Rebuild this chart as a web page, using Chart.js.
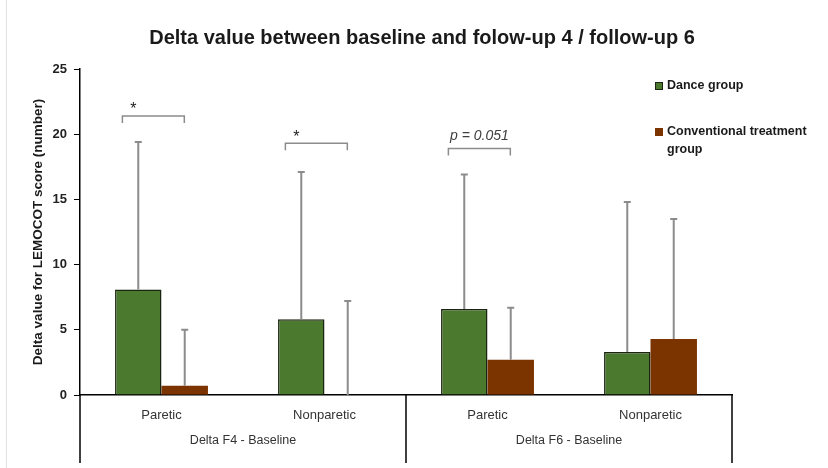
<!DOCTYPE html>
<html>
<head>
<meta charset="utf-8">
<title>Delta value chart</title>
<script src="https://cdn.jsdelivr.net/npm/chart.js@4.4.0/dist/chart.umd.min.js"></script>
<style>
  body { margin: 0; background: #fff; }
  #wrap { position: relative; width: 828px; height: 468px; }
  #frame { position: absolute; left: 6px; top: 0; width: 1px; height: 468px; background: #e2e2e2; }
</style>
</head>
<body>
<div id="wrap">
  <div id="frame"></div>
  <canvas id="chart" width="828" height="468"></canvas>
</div>
<script>
// Datos
const categories = ['Paretic', 'Nonparetic', 'Paretic', 'Nonparetic'];
const groups = ['Delta F4 - Baseline', 'Delta F6 - Baseline'];
const danceMean = [8.1, 5.8, 6.6, 3.3];
const danceSD = [11.3, 11.3, 10.3, 11.5];
const convMean = [0.7, 0, 2.7, 4.3];
const convSD = [4.3, 7.2, 4.0, 9.2];
const yTicks = [0, 5, 10, 15, 20, 25];

// Corchetes de significación
const sigIndex = [0, 1, 2];
const sigLevel = [21.4, 19.3, 18.9];
const sigText = ['*', '*', 'p = 0.051'];

const FONT = "'Liberation Sans', Arial, sans-serif";
Chart.defaults.font.family = FONT;

// Barras de error (solo hacia arriba)
const errorBars = {
    id: 'errorBars',
    afterDatasetsDraw(chart) {
        const { ctx, scales: { y } } = chart;
        const sds = [danceSD, convSD];
        ctx.save();
        ctx.strokeStyle = '#8c8c8c';
        ctx.lineWidth = 2;
        chart.data.datasets.forEach((ds, di) => {
            chart.getDatasetMeta(di).data.forEach((bar, i) => {
                const top = y.getPixelForValue(ds.data[i] + sds[di][i]);
                ctx.beginPath();
                ctx.moveTo(bar.x, bar.y);
                ctx.lineTo(bar.x, top);
                ctx.moveTo(bar.x - 3.5, top);
                ctx.lineTo(bar.x + 3.5, top);
                ctx.stroke();
            });
        });
        ctx.restore();
    }
};

// Corchetes, grupos del eje X y leyenda
const extras = {
    id: 'extras',
    afterDraw(chart) {
        const { ctx, chartArea, scales: { x, y } } = chart;
        const catW = x.getPixelForValue(1) - x.getPixelForValue(0);
        ctx.save();

        // corchetes
        sigIndex.forEach((idx, k) => {
            const cx = x.getPixelForValue(idx);
            const l = cx - 0.24 * catW;
            const r = cx + 0.14 * catW;
            const by = y.getPixelForValue(sigLevel[k]);
            ctx.strokeStyle = '#8c8c8c';
            ctx.lineWidth = 1.5;
            ctx.beginPath();
            ctx.moveTo(l, by + 7);
            ctx.lineTo(l, by);
            ctx.lineTo(r, by);
            ctx.lineTo(r, by + 7);
            ctx.stroke();
            ctx.textBaseline = 'middle';
            if (sigText[k] === '*') {
                ctx.fillStyle = '#222';
                ctx.font = '16px ' + FONT;
                ctx.textAlign = 'center';
                ctx.fillText('*', l + 11, by - 6);
            } else {
                ctx.fillStyle = '#404040';
                ctx.font = 'italic 14px ' + FONT;
                ctx.textAlign = 'center';
                ctx.fillText(sigText[k], (l + r) / 2, by - 12);
            }
        });

        // separadores y etiquetas de grupo
        const bottom = chart.height - 5;
        const seps = [chartArea.left, x.getPixelForValue(1.5), chartArea.right];
        ctx.strokeStyle = '#000';
        ctx.lineWidth = 1.5;
        seps.forEach(sx => {
            ctx.beginPath();
            ctx.moveTo(sx, chartArea.bottom);
            ctx.lineTo(sx, bottom);
            ctx.stroke();
        });
        ctx.fillStyle = '#333';
        ctx.font = '12.5px ' + FONT;
        ctx.textAlign = 'center';
        ctx.textBaseline = 'middle';
        groups.forEach((g, gi) => {
            ctx.fillText(g, x.getPixelForValue(gi * 2 + 0.5), chartArea.bottom + 46);
        });

        // leyenda
        const lx = 655;
        const rows = [82, 128];
        ctx.textAlign = 'left';
        ctx.font = 'bold 12.5px ' + FONT;
        chart.data.datasets.forEach((ds, di) => {
            const ty = rows[di];
            ctx.fillStyle = ds.backgroundColor;
            ctx.fillRect(lx, ty, 8, 8);
            if (ds.borderWidth) {
                ctx.strokeStyle = ds.borderColor;
                ctx.lineWidth = 1;
                ctx.strokeRect(lx + 0.5, ty + 0.5, 7, 7);
            }
            ctx.fillStyle = '#1a1a1a';
            const words = ds.label.split(' ');
            let line = '';
            let ly = ty + 4;
            words.forEach(w => {
                const test = line ? line + ' ' + w : w;
                if (ctx.measureText(test).width > 155 && line) {
                    ctx.fillText(line, lx + 12, ly);
                    line = w;
                    ly += 18;
                } else {
                    line = test;
                }
            });
            ctx.fillText(line, lx + 12, ly);
        });
        ctx.restore();
    }
};

new Chart(document.getElementById('chart'), {
    type: 'bar',
    data: {
        labels: categories,
        datasets: [
            {
                label: 'Dance group',
                data: danceMean,
                backgroundColor: '#4b7a2e',
                borderColor: '#1b2410',
                borderWidth: 1.5
            },
            {
                label: 'Conventional treatment group',
                data: convMean,
                backgroundColor: '#7b3300',
                borderColor: '#7b3300',
                borderWidth: 0
            }
        ]
    },
    options: {
        responsive: false,
        animation: false,
        events: [],
        layout: { padding: { left: 16, right: 0, top: 0, bottom: 0 } },
        datasets: { bar: { categoryPercentage: 0.57, barPercentage: 1.0 } },
        plugins: {
            legend: { display: false },
            tooltip: { enabled: false },
            title: {
                display: true,
                text: 'Delta value between baseline and folow-up 4 / follow-up 6',
                color: '#1a1a1a',
                font: { size: 20, weight: 'bold' },
                padding: { top: 26, bottom: 19 }
            }
        },
        scales: {
            x: {
                grid: { display: false },
                border: { display: true, color: '#000', width: 1.5 },
                ticks: { color: '#333', font: { size: 13 }, padding: 5 },
                afterFit(s) { s.height = 73; }
            },
            y: {
                min: 0,
                max: 25,
                afterBuildTicks(s) { s.ticks = yTicks.map(v => ({ value: v })); },
                grid: { display: true, drawOnChartArea: false, drawTicks: true, tickLength: 6, color: '#000', lineWidth: 1 },
                border: { display: true, color: '#000', width: 1.5 },
                ticks: { color: '#222', font: { size: 13, weight: 'bold' }, padding: 7 },
                title: {
                    display: true,
                    text: 'Delta value for LEMOCOT score (number)',
                    color: '#1a1a1a',
                    font: { size: 13.5, weight: 'bold' },
                    padding: { top: 14, bottom: 0 }
                },
                afterFit(s) { s.width = 64; }
            },
            // eje vacío a la derecha para dejar sitio a la leyenda
            yRight: {
                position: 'right',
                display: true,
                grid: { display: false },
                border: { display: false },
                ticks: { display: false },
                afterFit(s) { s.width = 96; }
            }
        }
    },
    plugins: [errorBars, extras]
});
</script>
</body>
</html>
